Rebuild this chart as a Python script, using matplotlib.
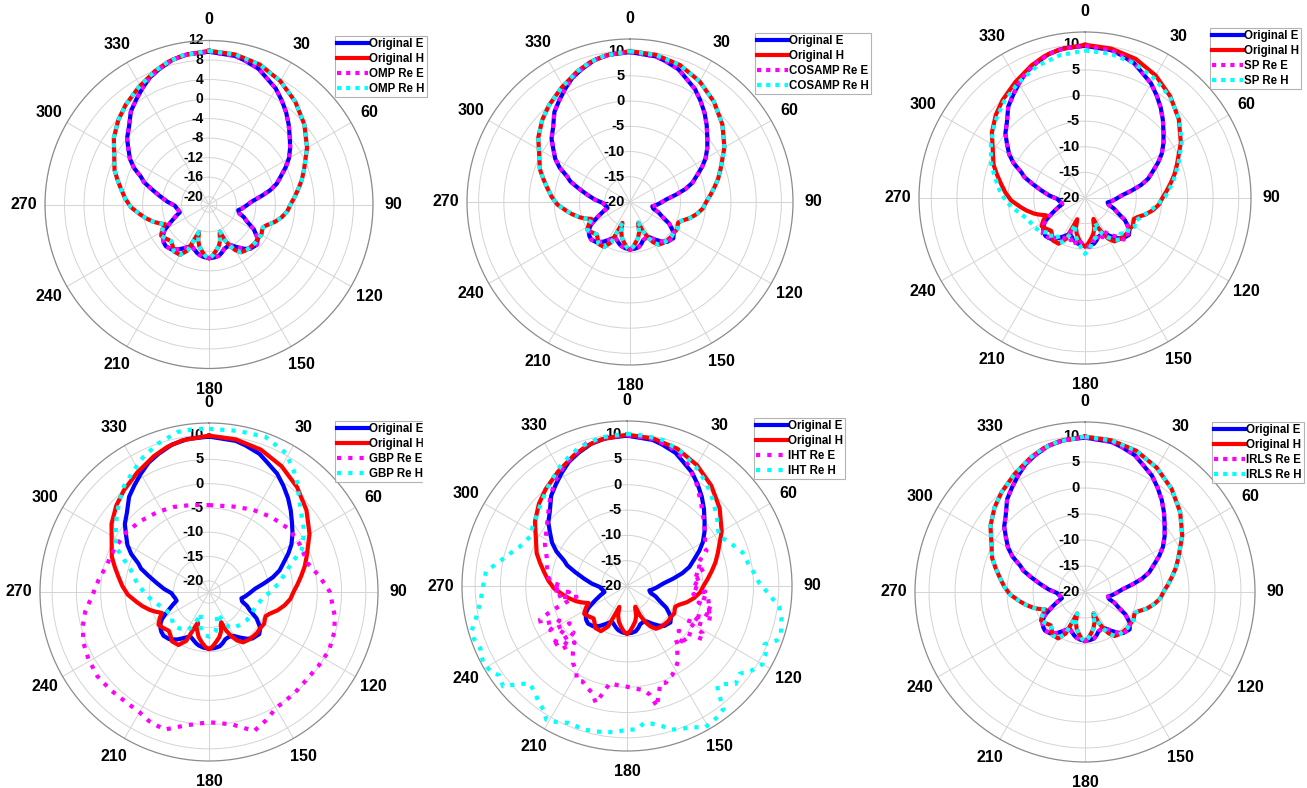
import numpy as np
import matplotlib
matplotlib.use('Agg')
import matplotlib.pyplot as plt
from matplotlib.patches import Rectangle
from matplotlib.transforms import offset_copy

plt.rcParams['font.family'] = ['Liberation Sans', 'DejaVu Sans']
plt.rcParams['font.weight'] = 'bold'

# ---- measured radiation patterns (angle in deg, gain in dB) ----
E_ANG = [0, 10, 14, 20, 24, 30, 35, 40, 45, 50,
         55, 60, 64, 68, 73, 77, 81, 86, 92, 97,
         101, 106, 110, 114, 119, 125, 130, 133, 137, 141,
         146, 151, 156, 161, 165, 169, 174, 180, 186, 191,
         194, 199, 203, 208, 214, 220, 226, 230, 233, 237,
         240, 243, 246, 251, 255, 260, 264, 268, 274, 280,
         285, 289, 292, 296, 300, 305, 309, 314, 320, 325,
         330, 335, 340, 346, 352, 360]
E_DB = [9.7, 9.3, 8.8, 8.0, 7.0, 5.8, 4.4, 3.0, 1.5, 0.0,
        -1.3, -2.7, -4.1, -5.6, -7.1, -8.8, -10.8, -12.8, -14.0, -14.8,
        -15.5, -15.2, -14.0, -13.1, -11.1, -9.4, -8.8, -9.0, -9.2, -9.9,
        -11.0, -12.0, -12.2, -12.0, -11.4, -10.9, -10.7, -10.6, -10.8, -11.1,
        -11.4, -12.0, -12.4, -11.6, -10.5, -9.6, -9.3, -9.5, -9.8, -10.4,
        -11.1, -12.2, -13.2, -14.5, -15.4, -15.2, -14.9, -14.6, -13.0, -11.3,
        -9.4, -7.5, -6.6, -4.5, -2.9, -1.4, 0.0, 1.2, 3.3, 4.5,
        5.8, 7.1, 8.0, 9.0, 9.5, 9.7]

H_ANG = [0, 10, 20, 30, 40, 50, 60, 70, 75, 80,
         85, 90, 95, 100, 105, 110, 113, 116, 120, 125,
         130, 135, 140, 146, 150, 153, 156, 158, 160, 163,
         167, 172, 176, 180, 184, 188, 193, 197, 200, 202,
         205, 210, 217, 222, 226, 232, 237, 242, 246, 250,
         253, 258, 262, 268, 274, 280, 285, 290, 298, 305,
         313, 320, 329, 338, 344, 350, 360]
H_DB = [9.9, 9.6, 8.9, 7.6, 5.9, 3.9, 1.6, -0.9, -1.9, -3.0,
        -4.0, -4.9, -5.5, -6.5, -7.7, -9.1, -9.6, -9.5, -9.2, -9.4,
        -9.3, -9.4, -9.5, -9.8, -10.8, -12.0, -13.6, -15.6, -15.2, -13.8,
        -12.8, -11.9, -11.1, -10.5, -11.0, -11.8, -12.8, -14.0, -15.6, -14.5,
        -11.2, -9.7, -9.6, -10.4, -10.8, -10.3, -9.9, -10.8, -11.7, -10.5,
        -9.6, -8.3, -7.3, -5.6, -4.4, -3.3, -2.2, -1.0, 0.4, 2.2,
        3.8, 5.0, 6.4, 7.9, 8.8, 9.4, 9.9]

# SP reconstruction (E uses the E angles)
SP_E_DB = [9.7, 9.3, 8.8, 8.0, 7.0, 5.8, 4.4, 3.0, 1.5, 0.0,
           -1.3, -2.7, -4.1, -5.6, -7.1, -8.8, -10.8, -12.8, -14.0, -14.8,
           -15.5, -15.2, -14.0, -13.1, -11.1, -9.6, -9.0, -9.5, -8.9, -10.3,
           -11.4, -12.5, -11.6, -12.6, -11.0, -11.6, -10.4, -10.6, -11.4, -10.6,
           -12.0, -11.3, -12.8, -11.0, -10.9, -9.3, -9.6, -9.2, -10.1, -10.4,
           -11.1, -12.2, -13.2, -14.5, -15.4, -15.2, -14.9, -14.6, -13.0, -11.3,
           -9.4, -7.5, -6.6, -4.5, -2.9, -1.4, 0.0, 1.2, 3.3, 4.5,
           5.8, 7.1, 8.0, 9.0, 9.5, 9.7]
SP_H_ANG = [0, 10, 20, 30, 40, 50, 60, 70, 80, 90,
            100, 110, 115, 120, 125, 130, 135, 140, 145, 150,
            155, 158, 161, 165, 170, 175, 180, 185, 190, 195,
            200, 203, 206, 210, 215, 220, 225, 230, 235, 240,
            245, 250, 255, 260, 265, 270, 275, 280, 285, 290,
            300, 310, 320, 330, 340, 350, 360]
SP_H_DB = [8.8, 8.6, 8.0, 7.0, 5.8, 4.0, 1.8, -0.6, -2.6, -4.5,
           -6.8, -8.6, -9.3, -8.8, -9.6, -9.2, -10.2, -9.4, -10.0, -11.2,
           -12.4, -14.8, -14.0, -12.0, -11.4, -10.0, -9.1, -10.4, -11.5, -12.6,
           -14.5, -12.0, -10.6, -9.9, -10.8, -9.8, -10.6, -9.6, -9.0, -8.6,
           -8.4, -8.0, -7.3, -6.3, -5.2, -4.2, -3.3, -2.5, -1.6, -0.5,
           1.2, 3.0, 4.6, 6.0, 7.4, 8.3, 8.8]

# GBP reconstruction
GBP_E_ANG = [0, 16, 28, 40, 52, 62, 74, 82, 90, 101,
             108, 116, 124, 132, 140, 150, 156, 162, 170, 180,
             190, 198, 205, 210, 217, 225, 233, 241, 248, 255,
             261, 268, 276, 284, 295, 306, 316, 327, 337, 348, 360]
GBP_E_DB = [-4.4, -4.0, -3.1, -2.2, -1.3, -1.2, -1.1, 0.7, 2.6, 4.1,
            4.8, 5.2, 4.9, 4.7, 5.0, 5.3, 6.6, 7.8, 5.4, 4.5,
            5.6, 7.5, 7.0, 6.3, 6.1, 6.3, 6.5, 6.1, 5.6, 4.6,
            3.5, 1.8, 0.6, -0.45, -0.9, -1.3, -2.0, -2.7, -3.3, -4.0, -4.4]
GBP_H_ANG = [0, 10, 20, 29, 37, 48, 56, 63, 66, 70,
             75, 82, 90, 95, 103, 112, 120, 127, 135, 141,
             146, 150, 153, 156, 159, 162, 166, 170, 175, 180,
             185, 190, 194, 198, 201, 204, 209, 214, 220, 227,
             233, 238, 244, 250, 255, 260, 266, 272, 279, 286,
             291, 296, 303, 309, 315, 321, 328, 334, 341, 349,
             355, 360]
GBP_H_DB = [11.3, 11.4, 11.7, 10.4, 7.5, 3.1, 1.2, -0.5, -1.5, -4.0,
            -5.8, -7.6, -9.6, -11.1, -11.8, -12.4, -12.5, -12.6, -12.9, -13.2,
            -13.3, -14.0, -15.0, -16.5, -17.6, -17.0, -15.5, -14.2, -13.4, -13.1,
            -13.4, -14.0, -15.0, -16.8, -17.6, -15.0, -13.4, -12.9, -12.6, -12.3,
            -12.8, -13.3, -12.9, -12.6, -11.7, -10.7, -9.7, -8.5, -7.0, -5.5,
            -3.5, -0.9, 0.6, 2.2, 3.9, 5.6, 7.1, 8.6, 10.0, 11.3,
            11.4, 11.3]

# IHT reconstruction (noisy)
IHT_E_ANG = [0, 10, 17, 25, 34, 41, 48, 55, 60, 64,
             66, 70, 74, 77, 80, 83, 86, 89, 91, 94,
             97, 100, 103, 106, 109, 111, 114, 117, 120, 122,
             125, 128, 131, 134, 137, 140, 142, 146, 150, 153,
             155, 158, 161, 164, 166, 168, 171, 175, 180, 185,
             190, 193, 195, 198, 202, 205, 208, 211, 215, 219,
             223, 226, 229, 231, 234, 237, 240, 243, 246, 249,
             252, 255, 258, 261, 264, 267, 270, 273, 277, 283,
             290, 297, 305, 312, 318, 325, 332, 338, 344, 352,
             360]
IHT_E_DB = [9.8, 9.5, 8.8, 7.5, 4.5, 2.2, 0.3, -1.2, -2.2, -3.0,
            -2.8, -4.5, -5.8, -4.0, -6.5, -5.0, -7.2, -6.0, -7.0, -4.5,
            -6.8, -3.0, -5.5, -2.0, -4.2, -1.8, -5.8, -3.2, -6.5, -2.4,
            -1.6, -4.8, -6.5, -3.5, -6.0, -4.2, -3.9, -2.0, -1.0, -0.3,
            -0.2, 0.6, 0.3, 2.5, 4.6, 2.0, 0.8, 0.4, -0.1, -0.3,
            -0.5, 2.0, 3.9, 2.2, 1.5, 0.8, 1.1, -0.5, -1.4, -3.0,
            -4.8, -2.0, -6.0, -1.0, -3.5, -6.5, -2.5, -5.0, -1.4, -1.6,
            -4.5, -7.5, -9.8, -6.0, -8.5, -5.0, -7.2, -4.8, -4.3, -3.8,
            -3.1, -1.8, -0.6, 1.0, 2.8, 5.0, 6.7, 8.0, 9.3, 9.7,
            9.8]
IHT_H_ANG = [0, 7, 14, 22, 30, 38, 45, 53, 58, 62,
             65, 67, 71, 74, 79, 84, 89, 93, 98, 102,
             107, 110, 113, 116, 120, 124, 128, 132, 135, 138,
             140, 142, 146, 151, 155, 159, 163, 166, 170, 173,
             176, 180, 185, 192, 197, 203, 207, 211, 214, 217,
             221, 225, 228, 231, 235, 238, 242, 247, 251, 254,
             258, 263, 268, 272, 276, 280, 284, 287, 290, 294,
             297, 302, 307, 315, 323, 332, 341, 350, 360]
IHT_H_DB = [10.1, 9.9, 9.7, 8.6, 7.2, 5.6, 4.0, 2.3, 1.2, 0.7,
            1.5, 2.0, 3.0, 3.8, 4.3, 5.2, 6.2, 8.0, 10.4, 11.2,
            11.8, 11.5, 9.5, 10.5, 10.9, 9.8, 8.2, 8.9, 7.4, 6.6,
            8.5, 10.9, 11.5, 11.9, 10.8, 10.2, 9.7, 8.5, 7.6, 7.3,
            8.4, 8.4, 9.0, 9.4, 9.6, 9.4, 10.2, 10.9, 9.5, 8.9,
            7.8, 7.2, 9.0, 11.5, 10.8, 11.8, 12.2, 11.5, 12.0, 11.9,
            10.5, 9.3, 8.6, 8.3, 8.0, 6.0, 4.5, 3.5, 2.6, 1.9,
            1.5, 2.0, 2.5, 3.8, 5.4, 7.4, 9.0, 9.8, 10.1]

METHODS = ['OMP', 'COSAMP', 'SP', 'GBP', 'IHT', 'IRLS']
RECON_E = [(E_ANG, E_DB), (E_ANG, E_DB), (E_ANG, SP_E_DB),
           (GBP_E_ANG, GBP_E_DB), (IHT_E_ANG, IHT_E_DB), (E_ANG, E_DB)]
RECON_H = [(H_ANG, H_DB), (H_ANG, H_DB), (SP_H_ANG, SP_H_DB),
           (GBP_H_ANG, GBP_H_DB), (IHT_H_ANG, IHT_H_DB), (H_ANG, H_DB)]

TICKS_A = [12, 8, 4, 0, -4, -8, -12, -16, -20]
TICKS_B = [10, 5, 0, -5, -10, -15, -20]

W, H = 1307, 788
# layout in pixels: centre x, centre y, radius, r-min, r-max, legend corner
LAYOUT = [
    (209, 204.5, 164, -21.6, 12.0, (335, 36)),
    (630, 202, 163, -20.0, 12.3, (755, 33)),
    (1085, 198, 166, -20.0, 12.4, (1210, 28)),
    (209, 592, 169, -22.3, 12.5, (335, 421)),
    (627, 586, 165, -20.0, 12.6, (754, 418)),
    (1085, 592, 170, -20.0, 12.7, (1212, 422)),
]

fig = plt.figure(figsize=(W / 100, H / 100), dpi=100)

for i, method in enumerate(METHODS):
    cx, cy, R, rmin, rmax, (lx, ly) = LAYOUT[i]
    ax = fig.add_axes([(cx - R) / W, 1 - (cy + R) / H, 2 * R / W, 2 * R / H],
                      projection='polar')
    ax.set_theta_zero_location('N')
    ax.set_theta_direction(-1)
    ticks = TICKS_A if i == 0 else TICKS_B
    ax.set_ylim(rmin, rmax)
    ax.set_yticks(ticks)
    ax.set_yticklabels([])
    ax.set_thetagrids(range(0, 360, 30), [str(a) for a in range(0, 360, 30)])
    ax.tick_params(axis='x', labelsize=11.5, pad=8, length=0)
    ax.set_xticks(np.deg2rad(np.arange(15, 360, 30)), minor=True)
    ax.tick_params(axis='x', which='minor', length=4, direction='in',
                   color='#909090', width=0.8)
    ax.grid(color='#d4d4d4', lw=0.7)
    ax.spines['polar'].set_color('#8c8c8c')
    ax.spines['polar'].set_linewidth(0.9)

    off = offset_copy(ax.transData, fig=fig, x=-4, y=0, units='points')
    for t in ticks:
        ax.text(0, t, str(t), transform=off, ha='right', va='center',
                fontsize=10 if i == 0 else 10.5, zorder=2)

    # sparse reconstructions are drawn with wider dot spacing
    dots = (0, (1, 1.7)) if method in ('GBP', 'IHT') else (0, (1, 1.2))
    ax.plot(np.deg2rad(E_ANG), E_DB, color='blue', lw=3, label='Original E', zorder=3)
    ax.plot(np.deg2rad(H_ANG), H_DB, color='red', lw=3, label='Original H', zorder=3)
    ea, ev = RECON_E[i]
    ha, hv = RECON_H[i]
    ax.plot(np.deg2rad(ea), ev, color='magenta', lw=3, ls=dots,
            label=method + ' Re E', zorder=4)
    ax.plot(np.deg2rad(ha), hv, color='cyan', lw=3, ls=dots,
            label=method + ' Re H', zorder=4)

    leg = ax.legend(loc='upper left', bbox_to_anchor=(lx / W, 1 - ly / H),
                    bbox_transform=fig.transFigure, fontsize=8.3,
                    frameon=True, fancybox=False, borderpad=0.2,
                    labelspacing=0.25, handlelength=2.7, handletextpad=0.05,
                    borderaxespad=0)
    leg.get_frame().set_edgecolor('#a0a0a0')
    leg.get_frame().set_linewidth(0.8)
    leg.set_zorder(10)

# the GBP legend is cut off by the neighbouring panel in the original
fig.patches.append(Rectangle((423 / W, 1 - 490 / H), 25 / W, 75 / H,
                             transform=fig.transFigure, color='white', zorder=20))

fig.savefig('out.png', dpi=100)
